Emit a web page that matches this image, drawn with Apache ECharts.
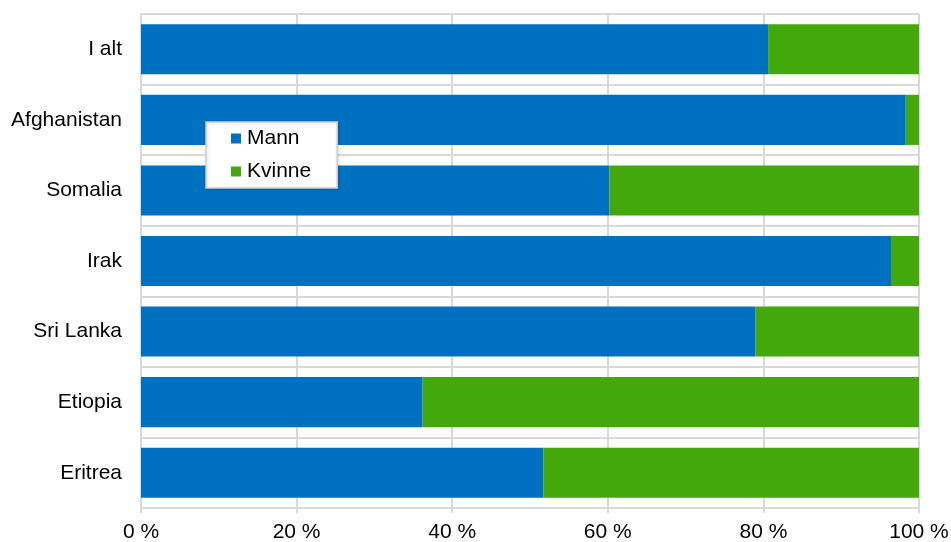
<!DOCTYPE html>
<html>
<head>
<meta charset="utf-8">
<script src="https://cdn.jsdelivr.net/npm/echarts@6/dist/echarts.min.js"></script>
<style>html,body{margin:0;padding:0;background:#fff}#c{width:951px;height:542px}</style>
</head>
<body>
<div id="c"></div>
<script>
var categories = ['I alt', 'Afghanistan', 'Somalia', 'Irak', 'Sri Lanka', 'Etiopia', 'Eritrea'];
var mann = [80.6, 98.3, 60.2, 96.4, 79.0, 36.2, 51.7];
var kvinne = [19.4, 1.7, 39.8, 3.6, 21.0, 63.8, 48.3];
var xTicks = [0, 20, 40, 60, 80, 100];

var font = 'Liberation Sans, Arial, sans-serif';
var chart = echarts.init(document.getElementById('c'));
chart.setOption({
  animation: false,
  textStyle: { fontFamily: font },
  grid: { left: 141, right: 32, top: 14, bottom: 34, containLabel: false, outerBoundsMode: 'none' },
  legend: {
    orient: 'vertical',
    left: 206, top: 122,
    data: ['Mann', 'Kvinne'],
    backgroundColor: '#fff',
    borderColor: '#cfcfcf',
    borderWidth: 1.5,
    shadowColor: 'rgba(0,0,0,0.15)',
    shadowBlur: 3,
    shadowOffsetX: 1,
    shadowOffsetY: 1,
    padding: [6, 26, 6, 25],
    itemGap: 12,
    itemWidth: 10,
    itemHeight: 10,
    icon: 'rect',
    textStyle: { fontSize: 21, color: '#000', fontFamily: font, padding: [0, 0, 0, 1] }
  },
  xAxis: {
    type: 'value',
    min: xTicks[0], max: xTicks[xTicks.length - 1], interval: 20,
    axisLine: { show: true, lineStyle: { color: '#d9d9d9', width: 2 } },
    axisTick: { show: true, length: 5, lineStyle: { color: '#d9d9d9', width: 2 } },
    splitLine: { show: true, lineStyle: { color: '#d9d9d9', width: 2 } },
    axisLabel: { formatter: '{value} %', fontSize: 21, color: '#000', margin: 14, fontFamily: font }
  },
  yAxis: {
    type: 'category',
    data: categories,
    inverse: true,
    axisLine: { show: true, lineStyle: { color: '#d9d9d9', width: 2 } },
    axisTick: { show: false },
    splitLine: { show: true, lineStyle: { color: '#d9d9d9', width: 2 } },
    axisLabel: { fontSize: 21, color: '#000', margin: 19, fontFamily: font }
  },
  series: [
    { name: 'Mann', type: 'bar', stack: 'a', data: mann, barCategoryGap: '29%',
      itemStyle: { color: '#0070C0' } },
    { name: 'Kvinne', type: 'bar', stack: 'a', data: kvinne, barCategoryGap: '29%',
      itemStyle: { color: '#43A80B' } }
  ]
});
</script>
</body>
</html>
